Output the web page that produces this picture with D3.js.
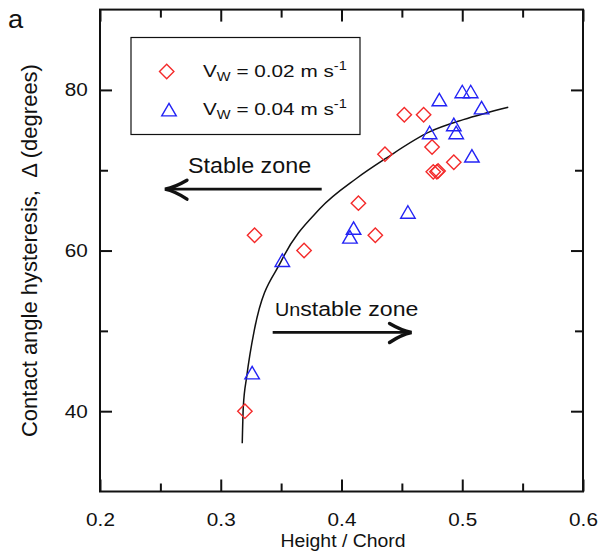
<!DOCTYPE html>
<html>
<head>
<meta charset="utf-8">
<script src="https://cdn.jsdelivr.net/npm/d3@7/dist/d3.min.js"></script>
<style>
  body { margin: 0; background: #fff; }
  svg { display: block; font-family: 'Liberation Sans', Arial, sans-serif; }
  text { fill: #111; }
</style>
</head>
<body>
<svg id="chart" width="611" height="551"></svg>
<script>
'use strict';

// axis ticks
var xMajor = [0.2, 0.3, 0.4, 0.5, 0.6];
var xMinor = [0.25, 0.35, 0.45, 0.55];
var yMajor = [40, 60, 80];
var yMinor = [50, 70];

// Vw = 0.02 m/s (diamonds)
var v02Ratio = [0.452, 0.468, 0.475, 0.436, 0.493, 0.476, 0.479, 0.480, 0.414, 0.428, 0.328, 0.369, 0.320];
var v02Angle = [76.9, 76.9, 72.9, 72.0, 71.0, 69.8, 69.8, 69.9, 65.9, 61.9, 61.9, 60.0, 40.0];

// Vw = 0.04 m/s (triangles)
var v04Ratio = [0.481, 0.500, 0.507, 0.516, 0.473, 0.493, 0.495, 0.508, 0.455, 0.410, 0.407, 0.351, 0.326];
var v04Angle = [78.8, 79.8, 79.8, 77.8, 74.7, 75.7, 74.7, 71.8, 64.8, 62.8, 61.7, 58.8, 44.8];

// stability boundary
var fitRatio = [0.3178, 0.3187, 0.3215, 0.3278, 0.3505, 0.382, 0.4126, 0.436, 0.4733, 0.5009, 0.5381];
var fitAngle = [36.0, 40.6, 44.3, 50.1, 58.8, 65.2, 69.0, 71.4, 74.8, 76.3, 77.85];

var legendSpeeds = ['0.02', '0.04'];

var red = '#f42a2a', blue = '#2323f5', ink = '#111';

var svg = d3.select('#chart');
var box = { l: 100, r: 583, t: 9.6, b: 491.5 };

var x = d3.scaleLinear().domain([0.2, 0.6]).range([box.l, box.r]);
var y = d3.scaleLinear().domain([30, 90]).range([box.b, box.t]);

//small helper, the original text is drawn a bit wide
function label(parent, px, py, str, size, anchor, sx) {
    return parent.append('text')
        .attr('transform', 'translate(' + px + ',' + py + ') scale(' + (sx || 1) + ',1)')
        .attr('text-anchor', anchor || 'start')
        .style('font-size', size + 'px')
        .text(str);
}

function diamond(r) {
    return 'M0,' + (-r) + 'L' + r + ',0L0,' + r + 'L' + (-r) + ',0Z';
}
function triangle(w, h) {
    return 'M0,' + (-h / 2) + 'L' + (w / 2) + ',' + (h / 2) + 'L' + (-w / 2) + ',' + (h / 2) + 'Z';
}

//axes, ticks pointing inwards
function styleAxis(g) {
    g.select('.domain').remove();
    g.selectAll('line').attr('stroke', ink).attr('stroke-width', 2);
    g.selectAll('text').attr('fill', ink).style('font-size', '18.5px')
        .attr('transform', 'scale(1.12,1)');
}

svg.append('g').attr('transform', 'translate(0,' + box.b + ')')
    .call(d3.axisBottom(x).tickValues(xMajor).tickSize(-12).tickPadding(21).tickFormat(d3.format('.1f')))
    .call(styleAxis);
svg.append('g').attr('transform', 'translate(0,' + box.b + ')')
    .call(d3.axisBottom(x).tickValues(xMinor).tickSize(-8).tickFormat(''))
    .call(styleAxis);
svg.append('g').attr('transform', 'translate(0,' + box.t + ')')
    .call(d3.axisTop(x).tickValues(xMajor).tickSize(-12).tickFormat(''))
    .call(styleAxis);
svg.append('g').attr('transform', 'translate(0,' + box.t + ')')
    .call(d3.axisTop(x).tickValues(xMinor).tickSize(-8).tickFormat(''))
    .call(styleAxis);

svg.append('g').attr('transform', 'translate(' + box.l + ',0)')
    .call(d3.axisLeft(y).tickValues(yMajor).tickSize(-12).tickPadding(11))
    .call(styleAxis);
svg.append('g').attr('transform', 'translate(' + box.l + ',0)')
    .call(d3.axisLeft(y).tickValues(yMinor).tickSize(-8).tickFormat(''))
    .call(styleAxis);
svg.append('g').attr('transform', 'translate(' + box.r + ',0)')
    .call(d3.axisRight(y).tickValues(yMajor).tickSize(-12).tickFormat(''))
    .call(styleAxis);
svg.append('g').attr('transform', 'translate(' + box.r + ',0)')
    .call(d3.axisRight(y).tickValues(yMinor).tickSize(-8).tickFormat(''))
    .call(styleAxis);

svg.append('rect')
    .attr('x', box.l).attr('y', box.t)
    .attr('width', box.r - box.l).attr('height', box.b - box.t)
    .attr('fill', 'none').attr('stroke', ink).attr('stroke-width', 2);

//axis titles
label(svg, 343, 547, 'Height / Chord', 18.5, 'middle', 1.05);
svg.append('text')
    .attr('transform', 'translate(37,' + ((box.t + box.b) / 2) + ') rotate(-90)')
    .attr('text-anchor', 'middle')
    .style('font-size', '22px')
    .style('white-space', 'pre')
    .text('Contact angle hysteresis,  \u0394 (degrees)');
label(svg, 8, 28, 'a', 26, 'start', 1.05);

//fitted boundary
var fit = d3.zip(fitRatio, fitAngle);
svg.append('path')
    .attr('d', d3.line().x(function (d) { return x(d[0]); }).y(function (d) { return y(d[1]); })
        .curve(d3.curveMonotoneX)(fit))
    .attr('fill', 'none').attr('stroke', ink).attr('stroke-width', 1.5);

//data points
svg.selectAll('.js-v02').data(d3.zip(v02Ratio, v02Angle)).enter().append('path')
    .attr('class', 'js-v02')
    .attr('d', diamond(7.2))
    .attr('transform', function (d) { return 'translate(' + x(d[0]) + ',' + y(d[1]) + ')'; })
    .attr('fill', 'none').attr('stroke', red).attr('stroke-width', 1.4);

svg.selectAll('.js-v04').data(d3.zip(v04Ratio, v04Angle)).enter().append('path')
    .attr('class', 'js-v04')
    .attr('d', triangle(14.5, 12.5))
    .attr('transform', function (d) { return 'translate(' + x(d[0]) + ',' + y(d[1]) + ')'; })
    .attr('fill', 'none').attr('stroke', blue).attr('stroke-width', 1.4);

//zone annotations
function arrow(x0, x1, yv) {
    var dir = x1 > x0 ? -1 : 1;
    var tx = x(x1), ty = y(yv);
    svg.append('line')
        .attr('x1', x(x0)).attr('y1', ty).attr('x2', tx + dir * 2).attr('y2', ty)
        .attr('stroke', ink).attr('stroke-width', 2.8);
    svg.append('path')
        .attr('d', 'M' + (tx + dir * 22) + ',' + (ty - 9) +
            'Q' + (tx + dir * 10) + ',' + (ty - 2) + ' ' + tx + ',' + ty +
            'Q' + (tx + dir * 10) + ',' + (ty + 2) + ' ' + (tx + dir * 22) + ',' + (ty + 10))
        .attr('fill', 'none').attr('stroke', ink).attr('stroke-width', 3.4)
        .attr('stroke-linejoin', 'miter').attr('stroke-linecap', 'round');
}

label(svg, x(0.2729), y(69.64), 'Stable zone', 22, 'start', 1.06);
arrow(0.3836, 0.2538, 67.64);

var un = svg.append('text')
    .attr('transform', 'translate(' + x(0.3449) + ',' + y(51.8) + ') scale(1.1,1)');
un.append('tspan').style('font-size', '18px').text('Un');
un.append('tspan').style('font-size', '21px').text('stable zone');
arrow(0.343, 0.458, 49.8);

//legend
var lg = svg.append('g');
lg.append('rect')
    .attr('x', 131).attr('y', 37.5).attr('width', 229).attr('height', 97)
    .attr('fill', '#fff').attr('stroke', ink).attr('stroke-width', 1.2);

legendSpeeds.forEach(function (s, i) {
    var rowY = 77.3 + i * 37.7;
    lg.append('path')
        .attr('d', i === 0 ? diamond(7.2) : triangle(14.5, 12.5))
        .attr('transform', 'translate(' + (i === 0 ? 166.7 : 169) + ',' + (rowY - 5.8 + i * 0.4) + ')')
        .attr('fill', 'none').attr('stroke', i === 0 ? red : blue).attr('stroke-width', 1.4);
    var t = lg.append('text')
        .attr('transform', 'translate(203,' + rowY + ') scale(1.22,1)');
    t.append('tspan').style('font-size', '17px').text('V');
    t.append('tspan').style('font-size', '12px').attr('dy', 4).text('W');
    t.append('tspan').style('font-size', '17px').attr('dy', -4).text(' = ' + s + ' m s');
    t.append('tspan').style('font-size', '12px').attr('dy', -7).text('-1');
});
</script>
</body>
</html>
